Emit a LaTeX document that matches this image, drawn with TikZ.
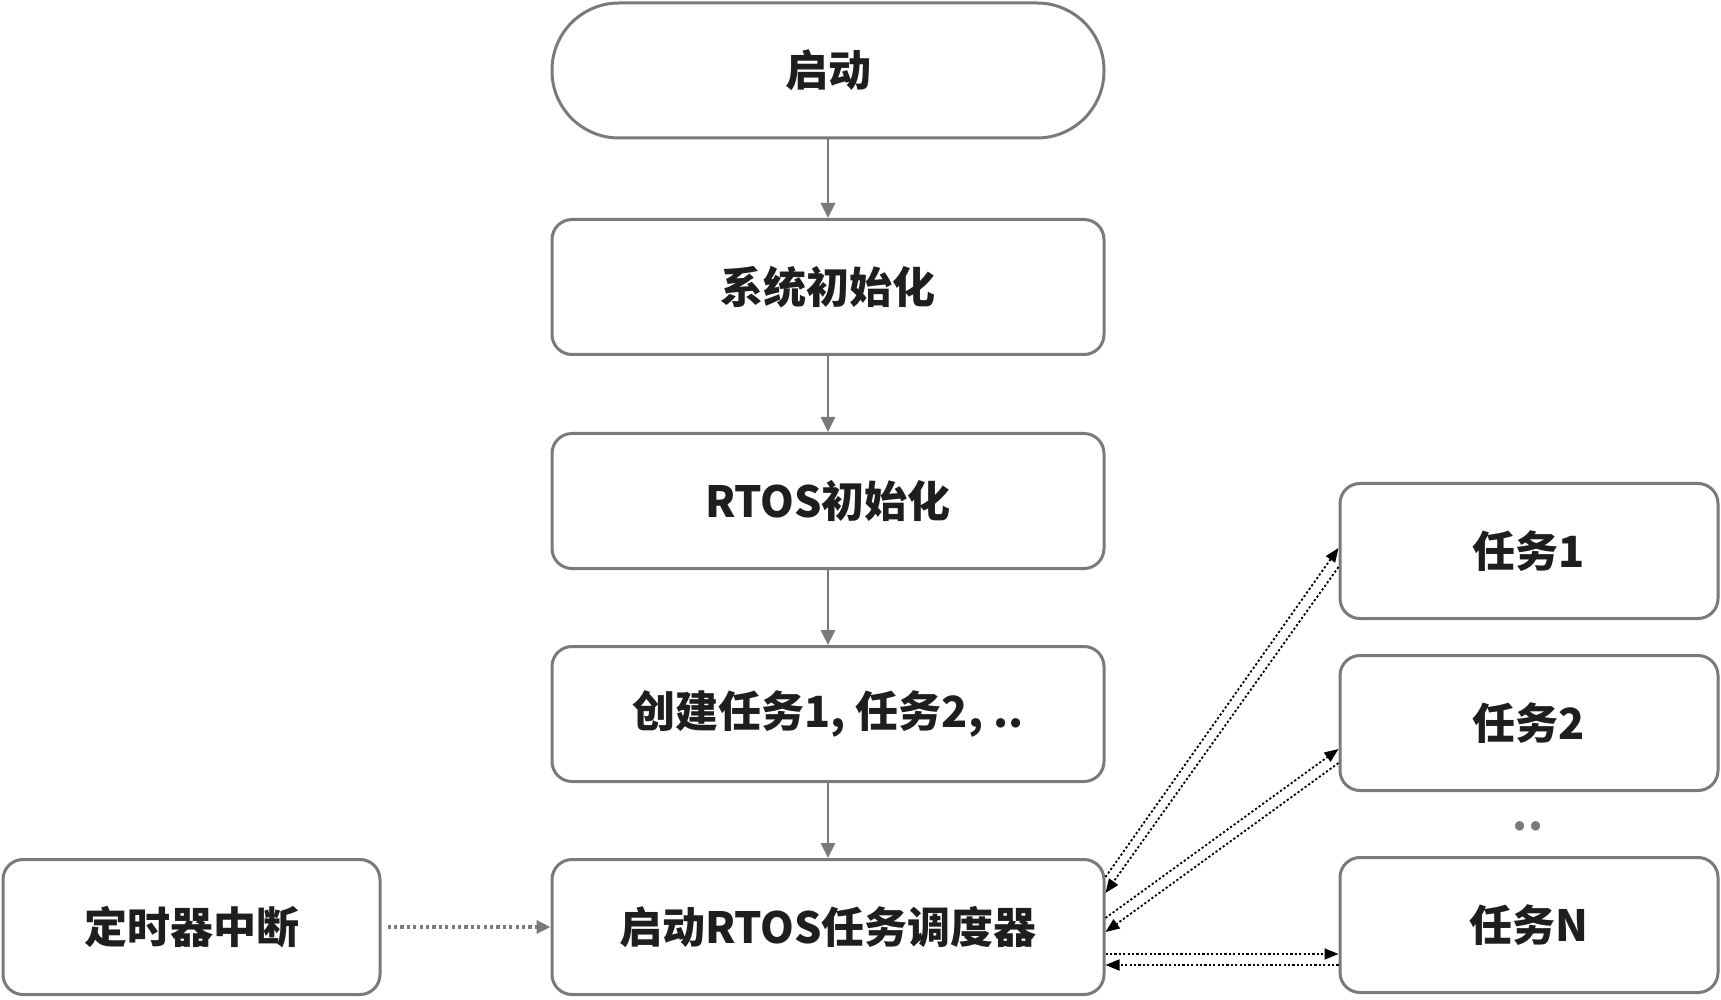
\documentclass[tikz,border=0pt]{standalone}
\usepackage{fontspec}
\setmainfont{Noto Sans CJK SC}
\usetikzlibrary{arrows.meta,calc}
\definecolor{bordergray}{HTML}{7A7A7A}
\definecolor{txt}{HTML}{1E1E1E}
\begin{document}
\begin{tikzpicture}[x=0.5pt,y=-0.5pt,
  box/.style={draw=bordergray, line width=1.5pt, rounded corners=10pt,
    minimum width=276pt, minimum height=67.5pt, inner sep=0pt, fill=white,
    font=\fontsize{21.5}{26}\selectfont\bfseries, text=txt},
  taskbox/.style={box, minimum width=189pt},
  pill/.style={box, rounded corners=33.5pt},
  flow/.style={draw=bordergray, line width=1.4pt,
    -{Triangle[length=7.5pt,width=7pt]}},
  sig/.style={draw=black, line width=0.9pt, dash pattern=on 1.1pt off 1.1pt,
    -{Triangle[length=7pt,width=5.5pt]}},
  irq/.style={draw=bordergray, line width=1.7pt, dash pattern=on 1.6pt off 1.6pt,
    -{Triangle[length=7pt,width=6.5pt,fill=bordergray]}}
]
\useasboundingbox (0,0) rectangle (1721,1000);

\node[pill] (start) at (828,70.5) {启动};
\node[box] (sys) at (828,287) {系统初始化};
\node[box] (rtos) at (828,501) {RTOS初始化};
\node[box] (create) at (828,714) {创建任务1, 任务2, ..};
\node[box] (sched) at (828,927) {启动RTOS任务调度器};
\node[box, minimum width=188.5pt] (timer) at (191.5,927) {定时器中断};

\node[taskbox] (t1) at (1529,551) {任务1};
\node[taskbox] (t2) at (1529,723) {任务2};
\node[taskbox] (tn) at (1529,925) {任务N};
\node[font=\fontsize{21.5}{26}\selectfont\bfseries, text=bordergray] (dots) at (1528,826) {..};

\draw[flow] (start) -- (sys);
\draw[flow] (sys) -- (rtos);
\draw[flow] (rtos) -- (create);
\draw[flow] (create) -- (sched);

\draw[irq, shorten <=3pt] (timer.east) -- (sched.west);

\draw[sig] ($(sched.east)+(0,-50)$) -- ($(t1.west)+(0,-3)$);
\draw[sig] ($(t1.west)+(0,16)$) -- ($(sched.east)+(0,-34)$);
\draw[sig] ($(sched.east)+(0,-9)$) -- ($(t2.west)+(0,26)$);
\draw[sig] ($(t2.west)+(0,40)$) -- ($(sched.east)+(0,5)$);
\draw[sig] ($(sched.east)+(0,27)$) -- ($(tn.west)+(0,29)$);
\draw[sig] ($(tn.west)+(0,40)$) -- ($(sched.east)+(0,38)$);
\end{tikzpicture}
\end{document}
